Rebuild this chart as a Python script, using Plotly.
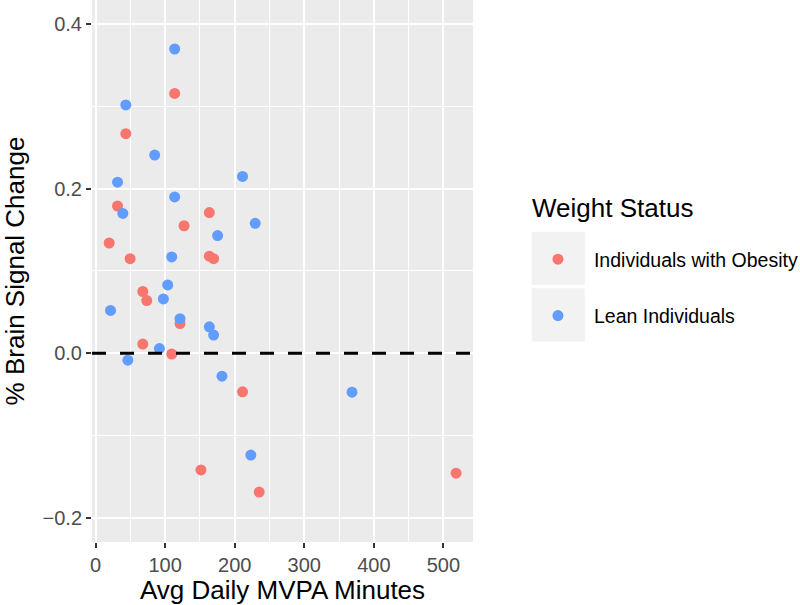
import plotly.graph_objects as go

# Data
obese_minutes = [113.7, 43.5, 31.6, 163.5, 127.2, 19.6, 49.7, 163.5, 169.7, 67.9,
                 73.6, 121.4, 67.9, 109.5, 211.3, 151.5, 518.2, 235.2]
obese_change = [0.316, 0.267, 0.179, 0.171, 0.155, 0.134, 0.115, 0.118, 0.115, 0.075,
                0.064, 0.036, 0.011, -0.001, -0.047, -0.142, -0.146, -0.169]

lean_minutes = [113.7, 43.5, 85.0, 31.6, 211.3, 113.7, 39.2, 229.5, 175.4, 109.5,
                103.7, 97.5, 21.5, 121.4, 163.5, 169.7, 91.8, 46.4, 181.7, 368.6, 223.2]
lean_change = [0.370, 0.302, 0.241, 0.208, 0.215, 0.190, 0.170, 0.158, 0.143, 0.117,
               0.083, 0.066, 0.052, 0.042, 0.032, 0.022, 0.0056, -0.0085, -0.028, -0.0475, -0.124]

group_names = ["Individuals with Obesity", "Lean Individuals"]
group_colors = ["#F8766D", "#619CFF"]

x_ticks = [0, 100, 200, 300, 400, 500]
y_ticks = [-0.2, 0.0, 0.2, 0.4]
y_tick_text = ["\u22120.2", "0.0", "0.2", "0.4"]
x_range = [-5.1, 542.5]
y_range = [-0.2297, 0.4296]

FONT = "Liberation Sans, Arial, sans-serif"

fig = go.Figure()
for name, color, xs, ys in zip(group_names, group_colors,
                               [obese_minutes, lean_minutes], [obese_change, lean_change]):
    fig.add_trace(go.Scatter(
        x=xs, y=ys, mode="markers", name=name, legendgroup=name,
        marker=dict(color=color, size=11, line=dict(width=0)),
    ))

fig.add_hline(y=0, line=dict(color="black", width=3, dash="14px,14px"), layer="above")

# layout geometry helpers (pixels -> paper fractions)
L, R, T, B = 91.5, 327, 0, 63
PW, PH = 800 - L - R, 605 - T - B
def px_x(p):
    return (p - L) / PW
def px_y(p):
    return (PH + T - p) / PH

# legend key backgrounds (ggplot style)
for top in [231.7, 288.3]:
    fig.add_shape(type="rect", xref="paper", yref="paper",
                  x0=px_x(531.7), x1=px_x(585), y0=px_y(top), y1=px_y(top + 53.3),
                  fillcolor="#F2F2F2", line=dict(width=0), layer="below")

fig.add_annotation(text="Weight Status", xref="paper", yref="paper",
                   x=px_x(530), y=px_y(208), xanchor="left", yanchor="middle",
                   showarrow=False, font=dict(family=FONT, size=26, color="black"))

axis_common = dict(
    showgrid=True, gridcolor="white", gridwidth=2.3,
    zeroline=False, showline=False, automargin=False,
    ticks="outside", ticklen=5, tickwidth=2.3, tickcolor="#333333",
    tickfont=dict(family=FONT, size=20, color="#4D4D4D"),
)

fig.update_layout(
    width=800, height=605,
    margin=dict(l=L, r=R, t=T, b=B, pad=0, autoexpand=False),
    paper_bgcolor="white", plot_bgcolor="#EBEBEB",
    font=dict(family=FONT),
    xaxis=dict(range=x_range, tickvals=x_ticks, ticktext=[str(v) for v in x_ticks],
               minor=dict(showgrid=True, gridcolor="white", gridwidth=1.2, dtick=50, tick0=0, ticks=""),
               title=dict(text="Avg Daily MVPA Minutes", font=dict(family=FONT, size=26, color="black"),
                          standoff=4),
               **axis_common),
    yaxis=dict(range=y_range, tickvals=y_ticks, ticktext=y_tick_text,
               minor=dict(showgrid=True, gridcolor="white", gridwidth=1.2, dtick=0.1, tick0=0, ticks=""),
               title=dict(text="% Brain Signal Change", font=dict(family=FONT, size=26, color="black"),
                          standoff=26),
               **axis_common),
    showlegend=True,
    legend=dict(
        x=px_x(522), xanchor="left", y=px_y(240), yanchor="top",
        bgcolor="rgba(0,0,0,0)", borderwidth=0,
        itemwidth=62, tracegroupgap=28,
        font=dict(family=FONT, size=19.5, color="black"),
    ),
)

fig.write_html("out.html", config={"displayModeBar": False},
               post_script="document.body.style.margin='0px';")
